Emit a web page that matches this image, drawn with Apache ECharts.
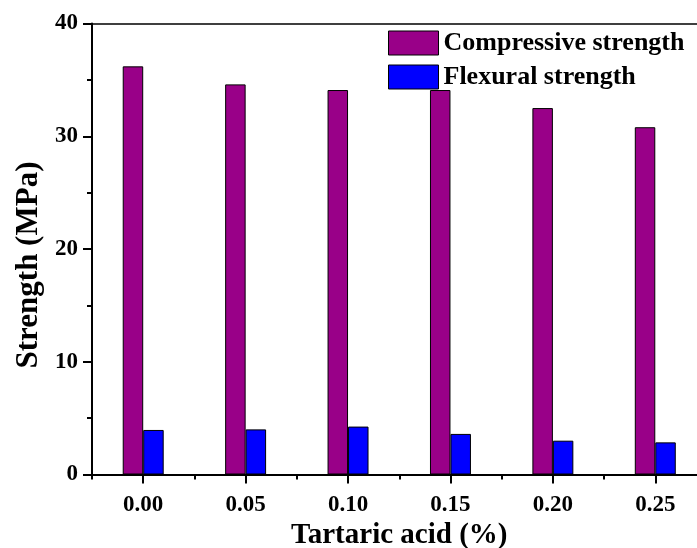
<!DOCTYPE html>
<html>
<head>
<meta charset="utf-8">
<script src="https://cdn.jsdelivr.net/npm/echarts@6/dist/echarts.min.js"></script>
<style>
html,body{margin:0;padding:0;background:#fff;}
#chart{width:697px;height:548px;}
</style>
</head>
<body>
<div id="chart"></div>
<script>
var categories = ['0.00', '0.05', '0.10', '0.15', '0.20', '0.25'];
var compressive = [36.2, 34.6, 34.1, 34.1, 32.5, 30.8];
var flexural = [3.95, 4.0, 4.25, 3.6, 3.0, 2.85];
var seriesNames = ['Compressive strength', 'Flexural strength'];
var yTicks = { min: 0, max: 40, interval: 10 };

var FONT = '"Liberation Serif", "Times New Roman", serif';
var chart = echarts.init(document.getElementById('chart'));
chart.setOption({
  backgroundColor: '#ffffff',
  animation: false,
  grid: { left: 92, right: -9.5, top: 23.5, bottom: 73.5, containLabel: false, outerBoundsMode: 'none' },
  legend: {
    orient: 'vertical',
    left: 388, top: 30, padding: 0,
    icon: 'rect',
    itemWidth: 50, itemHeight: 24, itemGap: 8,
    itemStyle: { borderColor: '#000', borderWidth: 1 },
    textStyle: { fontFamily: FONT, fontWeight: 'bold', fontSize: 26, color: '#000' },
    data: seriesNames
  },
  xAxis: [
    {
      type: 'category', data: categories, position: 'bottom', offset: 0,
      axisLine: { show: true, onZero: false, lineStyle: { color: '#000', width: 2 } },
      axisTick: { show: true, inside: false, alignWithLabel: true, interval: 0, length: 9, lineStyle: { color: '#000', width: 2 } },
      axisLabel: { show: true, interval: 0, fontFamily: FONT, fontWeight: 'bold', fontSize: 23, color: '#000', margin: 19 },
      name: 'Tartaric acid (%)', nameLocation: 'middle', nameGap: 40,
      nameTextStyle: { fontFamily: FONT, fontWeight: 'bold', fontSize: 29, color: '#000' }
    },
    {
      type: 'value', position: 'bottom', offset: 0,
      min: -0.5, max: categories.length - 0.5, interval: 1,
      axisLine: { show: false, onZero: false },
      splitLine: { show: false },
      axisTick: { show: true, inside: false, length: 5, lineStyle: { color: '#000', width: 2 } },
      axisLabel: { show: false }
    },
    {
      type: 'category', data: categories, position: 'top', offset: 0,
      axisLine: { show: true, onZero: false, lineStyle: { color: '#000', width: 1.5 } },
      axisTick: { show: false },
      axisLabel: { show: false }
    }
  ],
  yAxis: {
    type: 'value', min: yTicks.min, max: yTicks.max, interval: yTicks.interval,
    axisLine: { show: true, onZero: false, lineStyle: { color: '#000', width: 2 } },
    axisTick: { show: true, length: 9, lineStyle: { color: '#000', width: 2 } },
    minorTick: { show: true, splitNumber: 2, length: 5, lineStyle: { color: '#000', width: 2 } },
    splitLine: { show: false },
    axisLabel: { fontFamily: FONT, fontWeight: 'bold', fontSize: 23, color: '#000', margin: 14 },
    name: 'Strength (MPa)', nameLocation: 'middle', nameGap: 48, nameRotate: 90,
    nameTextStyle: { fontFamily: FONT, fontWeight: 'bold', fontSize: 31, color: '#000', padding: [0, 32, 0, 0] }
  },
  series: [
    {
      name: seriesNames[0], type: 'bar', xAxisIndex: 0, data: compressive,
      barWidth: '20%', barGap: '0%',
      itemStyle: { color: '#990088', borderColor: '#000', borderWidth: 1 }
    },
    {
      name: seriesNames[1], type: 'bar', xAxisIndex: 0, data: flexural,
      barWidth: '20%', barGap: '0%',
      itemStyle: { color: '#0000ff', borderColor: '#000', borderWidth: 1 }
    }
  ]
});
</script>
</body>
</html>
